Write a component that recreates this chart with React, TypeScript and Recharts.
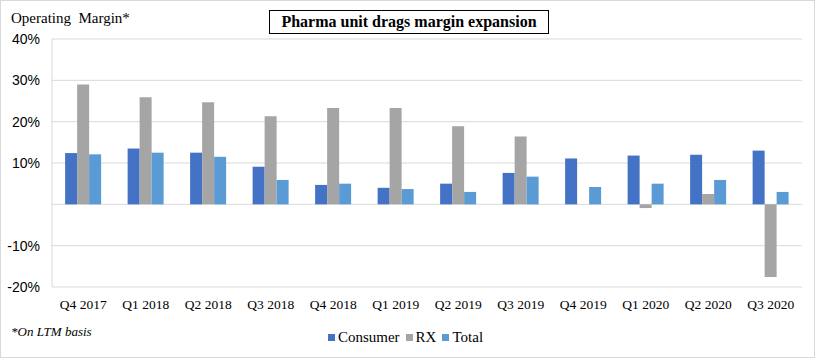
import { BarChart, Bar, XAxis, YAxis, CartesianGrid } from 'recharts';

const quarters = ['Q4 2017', 'Q1 2018', 'Q2 2018', 'Q3 2018', 'Q4 2018', 'Q1 2019', 'Q2 2019', 'Q3 2019', 'Q4 2019', 'Q1 2020', 'Q2 2020', 'Q3 2020'];
const consumer = [12.4, 13.5, 12.5, 9.1, 4.7, 4.0, 5.0, 7.6, 11.1, 11.8, 12.0, 13.0];
const rx = [29.0, 25.9, 24.7, 21.3, 23.3, 23.3, 18.9, 16.4, null, -0.9, 2.5, -17.6];
const total = [12.1, 12.5, 11.5, 5.9, 5.0, 3.7, 3.0, 6.7, 4.2, 5.0, 5.9, 3.0];
const yTicks = [-20, -10, 0, 10, 20, 30, 40];

const series = [
  { key: 'consumer', label: 'Consumer', color: '#4472C4' },
  { key: 'rx', label: 'RX', color: '#A5A5A5' },
  { key: 'total', label: 'Total', color: '#5B9BD5' },
];

const data = quarters.map((q, i) => ({ q, consumer: consumer[i], rx: rx[i], total: total[i] }));

const serif = "'Liberation Serif', 'DejaVu Serif', serif";

export default function App() {
  return (
    <div style={{ position: 'absolute', left: 0, top: 0, width: 815, height: 358, boxSizing: 'border-box', border: '1px solid #d9d9d9', background: '#fff', fontFamily: serif }}>
      <div style={{ position: 'absolute', left: 10, top: 9, fontSize: 15, whiteSpace: 'pre', color: '#000' }}>Operating  Margin*</div>
      <div style={{ position: 'absolute', left: 268, top: 9, width: 280, height: 24, boxSizing: 'border-box', border: '1px solid #000', fontSize: 16, fontWeight: 'bold', textAlign: 'center', lineHeight: '22px', color: '#000' }}>
        Pharma unit drags margin expansion
      </div>
      <BarChart width={815} height={358} data={data} margin={{ top: 38, right: 14, bottom: 42, left: 6 }} barCategoryGap='21%' barGap={0}>
        <CartesianGrid vertical={false} stroke='#d9d9d9' />
        <XAxis dataKey='q' height={30} axisLine={false} tickLine={false} tickMargin={6} interval={0}
          tick={{ fontSize: 13.5, fill: '#000', fontFamily: serif }} />
        <YAxis width={45} domain={[-20, 40]} ticks={yTicks} axisLine={{ stroke: '#d9d9d9' }} tickLine={false} tickSize={6} tickMargin={6}
          tickFormatter={(v: number) => (v === 0 ? '' : `${v}%`)}
          tick={{ fontSize: 14, fill: '#000', fontFamily: "'Liberation Sans', Arial, sans-serif" }} />
        {series.map(s => (
          <Bar key={s.key} dataKey={s.key} name={s.label} fill={s.color} isAnimationActive={false} />
        ))}
      </BarChart>
      <div style={{ position: 'absolute', left: 10, top: 323, fontSize: 13, fontStyle: 'italic', color: '#000' }}>*On LTM basis</div>
      <div style={{ position: 'absolute', left: 0, width: 815, top: 328, display: 'flex', justifyContent: 'center', fontSize: 15, color: '#000' }}>
        {series.map(s => (
          <div key={s.key} style={{ display: 'flex', alignItems: 'center', marginRight: 6 }}>
            <span style={{ width: 7, height: 7, background: s.color, marginRight: 3, display: 'inline-block' }} />
            <span>{s.label}</span>
          </div>
        ))}
      </div>
    </div>
  );
}
